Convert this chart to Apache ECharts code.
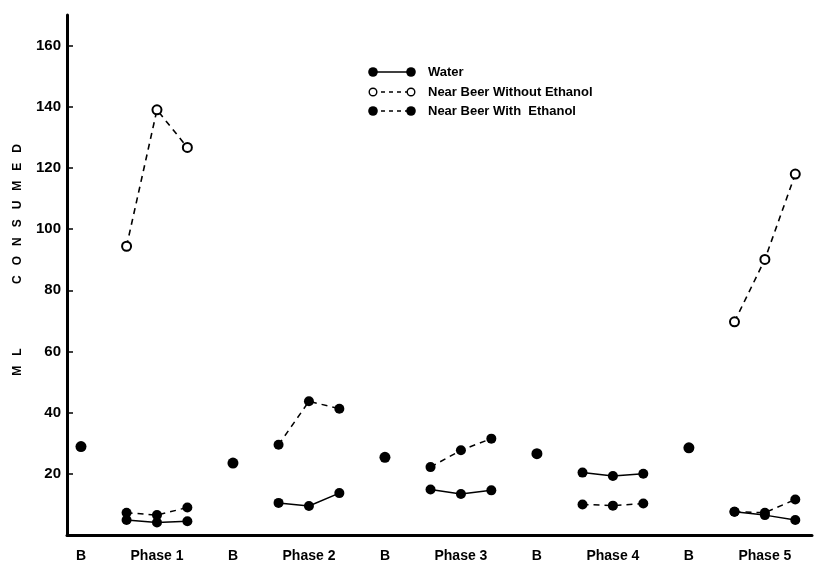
<!DOCTYPE html>
<html>
<head>
<meta charset="utf-8">
<script src="https://cdn.jsdelivr.net/npm/echarts@6/dist/echarts.min.js"></script>
<style>
html, body { margin: 0; padding: 0; background: #fff; }
#main { width: 815px; height: 563px; }
</style>
</head>
<body>
<div id="main"></div>
<script>
// x labels, one per slot: baseline (B) and the five phases
var xLabels = ['B', 'Phase 1', 'B', 'Phase 2', 'B', 'Phase 3', 'B', 'Phase 4', 'B', 'Phase 5'];
var yTicks = [20, 40, 60, 80, 100, 120, 140, 160];

// baseline sessions (one per B)
var baseline = [28.9, 23.5, 25.4, 26.6, 28.5];
// three sessions per phase, phase 1..5
var water = [[4.9, 4.1, 4.5], [10.5, 9.5, 13.7], [14.9, 13.4, 14.6], [20.4, 19.3, 20.0], [7.6, 6.5, 4.9]];
var beerNoEthanol = [[94.4, 139.0, 126.7], null, null, null, [69.7, 90.1, 118.0]];
var beerEthanol = [[7.3, 6.5, 9.0], [29.5, 43.7, 41.3], [22.2, 27.7, 31.5], [10.0, 9.6, 10.3], [7.6, 7.3, 11.6]];
var sessionOffsets = [-0.4, 0, 0.4];

var FONT = '"Liberation Sans", Arial, sans-serif';

function phaseData(phases) {
    var out = [];
    phases.forEach(function (vals, i) {
        if (!vals) return;
        var center = 2 * (i + 1);
        vals.forEach(function (v, k) {
            out.push([center + sessionOffsets[k], v]);
        });
        out.push([center + 1, '-']); // break the line between phases
    });
    return out;
}

var baselineData = baseline.map(function (v, j) { return [2 * j + 1, v]; });

var chart = echarts.init(document.getElementById('main'));

function legendRow(y, dashed, hollow, label) {
    var dot = function (x) {
        return {
            type: 'circle',
            shape: { cx: x, cy: y, r: hollow ? 3.8 : 4.8 },
            style: { fill: hollow ? '#fff' : '#000', stroke: '#000', lineWidth: hollow ? 1.4 : 0 }
        };
    };
    return [
        {
            type: 'line',
            shape: { x1: 373, y1: y, x2: 411, y2: y },
            style: { stroke: '#000', lineWidth: 1.5, lineDash: dashed ? [4, 4] : null }
        },
        dot(373), dot(411),
        {
            type: 'text', x: 428, y: y,
            style: {
                text: label, fill: '#000', font: 'bold 13px ' + FONT,
                textAlign: 'left', textVerticalAlign: 'middle'
            }
        }
    ];
}

var option = {
    animation: false,
    backgroundColor: '#fff',
    grid: { left: 67, right: 3, top: 15, bottom: 26.5 },
    xAxis: {
        type: 'value',
        min: 0.816,
        max: 10.62,
        axisLine: { show: true, lineStyle: { color: '#000', width: 3 } },
        axisTick: { show: false },
        splitLine: { show: false },
        axisLabel: {
            customValues: [1, 2, 3, 4, 5, 6, 7, 8, 9, 10],
            formatter: function (v) { return xLabels[Math.round(v) - 1]; },
            color: '#000', fontWeight: 'bold', fontSize: 14, fontFamily: FONT, margin: 14
        }
    },
    yAxis: {
        type: 'value',
        min: 0,
        max: 170,
        axisLine: { show: true, lineStyle: { color: '#000', width: 3 } },
        axisTick: {
            show: true, inside: true, length: 6, customValues: yTicks,
            lineStyle: { color: '#000', width: 1.5 }
        },
        splitLine: { show: false },
        axisLabel: {
            customValues: yTicks,
            color: '#000', fontWeight: 'bold', fontSize: 15, fontFamily: FONT, margin: 6
        }
    },
    graphic: [
        {
            type: 'text', x: 18, y: 362, rotation: Math.PI / 2,
            style: {
                text: 'M   L', fill: '#000', font: 'bold 12px ' + FONT,
                textAlign: 'center', textVerticalAlign: 'middle'
            }
        },
        {
            type: 'text', x: 18, y: 214, rotation: Math.PI / 2,
            style: {
                text: 'C   O   N   S   U   M   E   D', fill: '#000', font: 'bold 12px ' + FONT,
                textAlign: 'center', textVerticalAlign: 'middle'
            }
        }
    ]
        .concat(legendRow(72, false, false, 'Water'))
        .concat(legendRow(92, true, true, 'Near Beer Without Ethanol'))
        .concat(legendRow(111, true, false, 'Near Beer With  Ethanol')),
    series: [
        {
            name: 'Baseline',
            type: 'scatter',
            symbol: 'circle',
            symbolSize: 11,
            itemStyle: { color: '#000', opacity: 1 },
            data: baselineData
        },
        {
            name: 'Water',
            type: 'line',
            symbol: 'circle',
            symbolSize: 10,
            connectNulls: false,
            itemStyle: { color: '#000' },
            lineStyle: { color: '#000', width: 1.5 },
            data: phaseData(water)
        },
        {
            name: 'Near Beer Without Ethanol',
            type: 'line',
            symbol: 'emptyCircle',
            symbolSize: 9,
            connectNulls: false,
            itemStyle: { color: '#000', borderWidth: 1.6 },
            lineStyle: { color: '#000', width: 1.6, type: [6, 5] },
            data: phaseData(beerNoEthanol)
        },
        {
            name: 'Near Beer With Ethanol',
            type: 'line',
            symbol: 'circle',
            symbolSize: 10,
            connectNulls: false,
            itemStyle: { color: '#000' },
            lineStyle: { color: '#000', width: 1.5, type: [6, 5] },
            data: phaseData(beerEthanol)
        }
    ]
};

chart.setOption(option);
</script>
</body>
</html>
